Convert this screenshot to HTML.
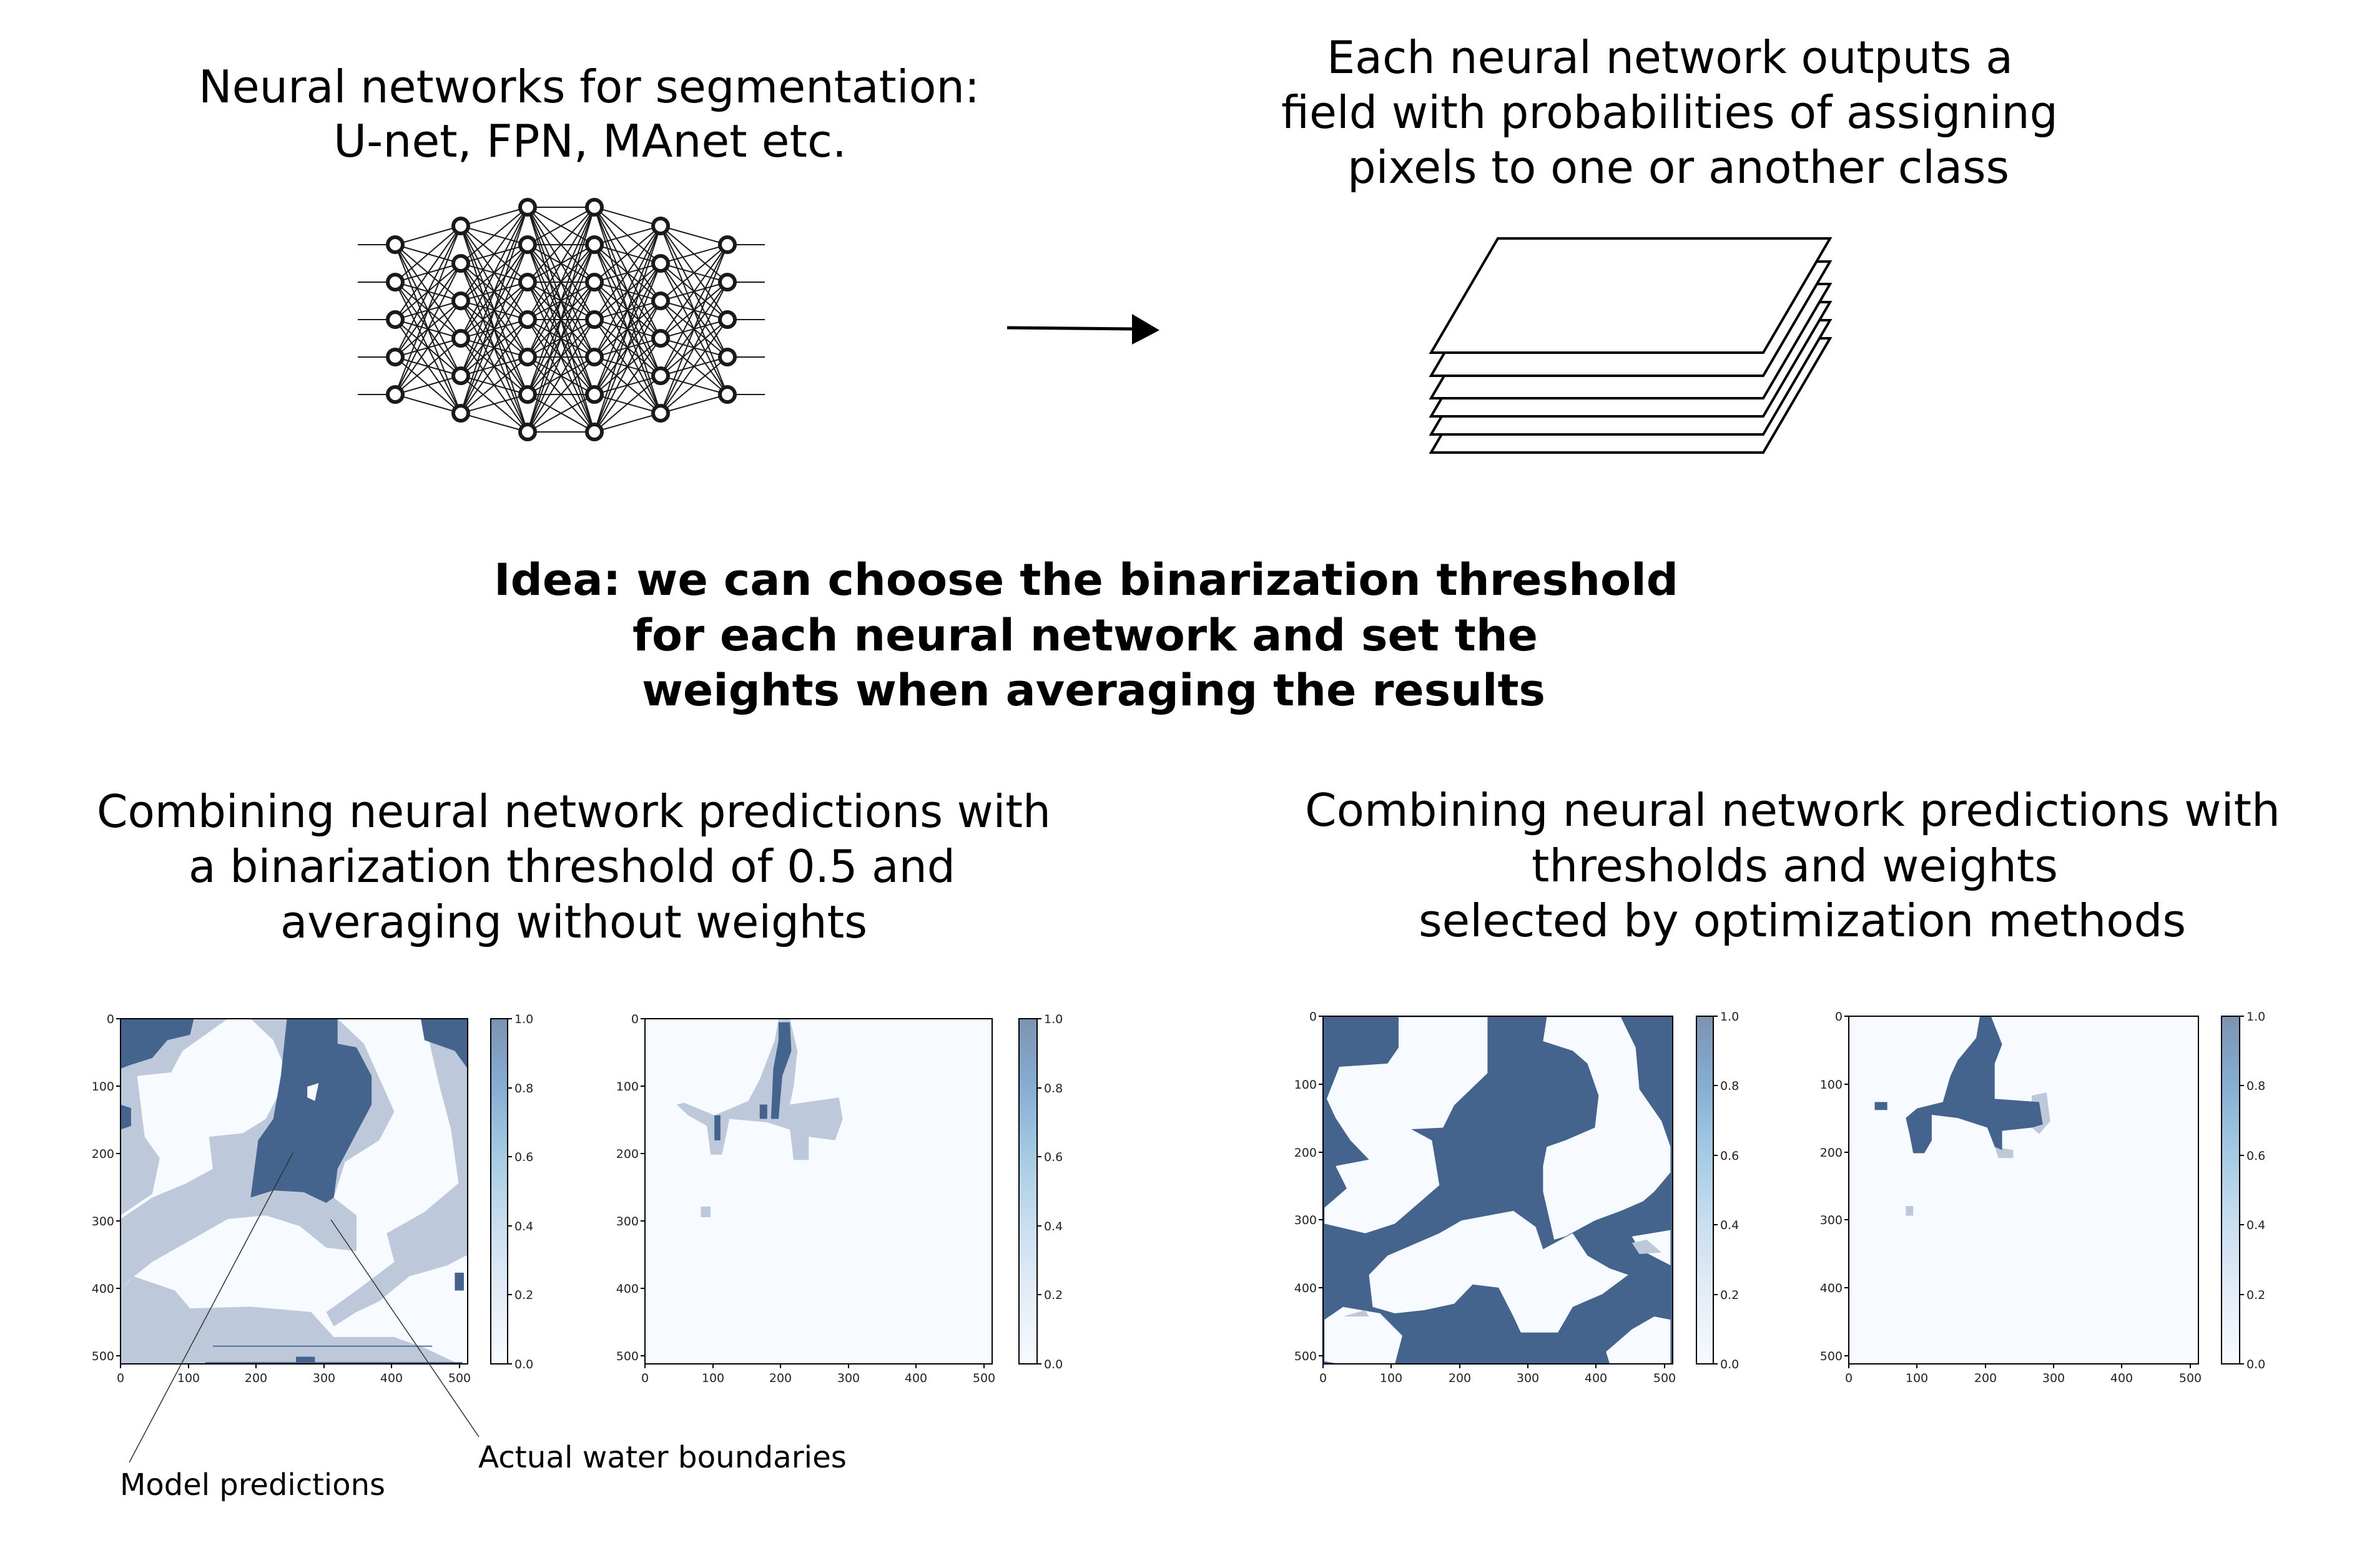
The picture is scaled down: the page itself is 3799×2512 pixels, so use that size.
<!DOCTYPE html>
<html><head><meta charset="utf-8"><style>
html,body{margin:0;padding:0;background:#fff;}
svg{display:block;}
text{font-family:"DejaVu Sans","Liberation Sans",sans-serif;fill:#000;}
.t{font-size:72px;}
.b{font-size:70px;font-weight:bold;}
.tk{font-size:19px;fill:#222;}
.lb{font-size:48px;}
</style></head><body>
<svg id="s" width="3799" height="2512" viewBox="0 0 3799 2512" xmlns="http://www.w3.org/2000/svg">
<defs>
<linearGradient id="cb" x1="0" y1="1" x2="0" y2="0">
<stop offset="0" stop-color="#f7fbff"/><stop offset="0.2" stop-color="#e4edf7"/><stop offset="0.4" stop-color="#cadef0"/><stop offset="0.6" stop-color="#a6cbe3"/><stop offset="0.8" stop-color="#86aed3"/><stop offset="1" stop-color="#7c93b2"/>
</linearGradient>
</defs>
<rect width="3799" height="2512" fill="#fff"/>

<text class="t" x="318" y="164" textLength="1251" lengthAdjust="spacingAndGlyphs">Neural networks for segmentation:</text>
<text class="t" x="534" y="251" textLength="822" lengthAdjust="spacingAndGlyphs">U-net, FPN, MAnet etc.</text>
<text class="t" x="2125" y="117" textLength="1099" lengthAdjust="spacingAndGlyphs">Each neural network outputs a</text>
<text class="t" x="2052" y="205" textLength="1244" lengthAdjust="spacingAndGlyphs">field with probabilities of assigning</text>
<text class="t" x="2158" y="293" textLength="1060" lengthAdjust="spacingAndGlyphs">pixels to one or another class</text>

<text class="b" x="791" y="953" textLength="1897" lengthAdjust="spacingAndGlyphs">Idea: we can choose the binarization threshold</text>
<text class="b" x="1013" y="1042" textLength="1450" lengthAdjust="spacingAndGlyphs">for each neural network and set the</text>
<text class="b" x="1028" y="1130" textLength="1447" lengthAdjust="spacingAndGlyphs">weights when averaging the results</text>

<text class="t" x="155" y="1325" textLength="1528" lengthAdjust="spacingAndGlyphs">Combining neural network predictions with</text>
<text class="t" x="302" y="1413" textLength="1228" lengthAdjust="spacingAndGlyphs">a binarization threshold of 0.5 and</text>
<text class="t" x="449" y="1502" textLength="940" lengthAdjust="spacingAndGlyphs">averaging without weights</text>

<text class="t" x="2090" y="1323" textLength="1562" lengthAdjust="spacingAndGlyphs">Combining neural network predictions with</text>
<text class="t" x="2453" y="1412" textLength="843" lengthAdjust="spacingAndGlyphs">thresholds and weights</text>
<text class="t" x="2272" y="1500" textLength="1229" lengthAdjust="spacingAndGlyphs">selected by optimization methods</text>

<g id="nn" stroke="#1a1a1a" stroke-width="2" fill="none"></g>

<line x1="1613" y1="525" x2="1818" y2="527" stroke="#000" stroke-width="5"/>
<polygon points="1813,503 1857,529 1813,552" fill="#000"/>

<g stroke="#000" stroke-width="4" fill="#fff" stroke-linejoin="miter">
<polygon points="2399,542 2931,542 2824,725 2292,725"/>
<polygon points="2399,513 2931,513 2824,696 2292,696"/>
<polygon points="2399,484 2931,484 2824,667 2292,667"/>
<polygon points="2399,455 2931,455 2824,638 2292,638"/>
<polygon points="2399,419 2931,419 2824,602 2292,602"/>
<polygon points="2399,382 2931,382 2824,565 2292,565"/>
</g>

<g transform="translate(193,1632)">
<svg x="0" y="0" width="556" height="553" viewBox="158 140 459 965" preserveAspectRatio="none">
<rect x="158" y="140" width="459" height="965" fill="#f7fbff"/>
<g fill="#bdc9da">
<polygon points="158,140 300,140 240,230 225,290 180,300 158,320"/>
<polygon points="158,300 180,300 190,470 210,530 200,630 158,690"/>
<polygon points="330,140 445,140 480,210 520,400 500,480 455,540 440,640 470,690 470,790 430,780 395,720 350,690 300,700 250,760 200,820 170,870 158,900 158,700 200,640 245,600 280,560 275,470 320,460 350,420 380,300 360,200"/>
<polygon points="560,140 617,140 617,800 590,830 540,860 500,930 470,960 440,1000 430,960 470,900 520,820 510,740 560,680 605,600 595,450 580,330 570,240"/>
<polygon points="158,900 175,860 230,900 250,950 330,945 410,960 440,1030 520,1030 560,1060 600,1100 617,1105 158,1105"/>
</g>
<g fill="#44648e">
<polygon points="158,140 255,140 250,185 220,200 200,250 170,270 158,280"/>
<polygon points="378,140 445,140 445,210 470,220 490,300 490,380 475,440 460,500 445,560 440,640 430,655 400,625 360,620 330,640 335,560 340,480 360,420 370,300 375,200"/>
<polygon points="555,140 617,140 617,280 600,230 560,200"/>
<polygon points="158,380 172,390 172,440 158,450"/>
<polygon points="600,850 612,850 612,900 600,900"/>
<rect x="280" y="1054" width="290" height="3"/>
<rect x="270" y="1100" width="340" height="5"/>
<rect x="390" y="1085" width="25" height="20"/>
</g>
<polygon points="405,330 420,320 415,370 405,360" fill="#f7fbff"/>
</svg>
<rect x="0" y="0" width="556" height="553" fill="none" stroke="#000" stroke-width="2"/>
<g stroke="#000" stroke-width="2">
<line x1="0" y1="553" x2="0" y2="560"/><line x1="109" y1="553" x2="109" y2="560"/><line x1="217" y1="553" x2="217" y2="560"/><line x1="326" y1="553" x2="326" y2="560"/><line x1="434" y1="553" x2="434" y2="560"/><line x1="543" y1="553" x2="543" y2="560"/>
<line x1="0" y1="0" x2="-7" y2="0"/><line x1="0" y1="108" x2="-7" y2="108"/><line x1="0" y1="216" x2="-7" y2="216"/><line x1="0" y1="324" x2="-7" y2="324"/><line x1="0" y1="432" x2="-7" y2="432"/><line x1="0" y1="540" x2="-7" y2="540"/>
</g>
<g text-anchor="middle">
<text x="0" y="582" class="tk">0</text><text x="109" y="582" class="tk">100</text><text x="217" y="582" class="tk">200</text><text x="326" y="582" class="tk">300</text><text x="434" y="582" class="tk">400</text><text x="543" y="582" class="tk">500</text>
</g>
<g text-anchor="end">
<text x="-10" y="7" class="tk">0</text><text x="-10" y="115" class="tk">100</text><text x="-10" y="223" class="tk">200</text><text x="-10" y="331" class="tk">300</text><text x="-10" y="439" class="tk">400</text><text x="-10" y="547" class="tk">500</text>
</g>
<rect x="593" y="0" width="27" height="553" fill="url(#cb)" stroke="#000" stroke-width="2"/>
<g stroke="#000" stroke-width="2"><line x1="620" y1="0" x2="627" y2="0"/><line x1="620" y1="111" x2="627" y2="111"/><line x1="620" y1="221" x2="627" y2="221"/><line x1="620" y1="332" x2="627" y2="332"/><line x1="620" y1="442" x2="627" y2="442"/><line x1="620" y1="553" x2="627" y2="553"/></g>
<text x="631" y="7" class="tk">1.0</text><text x="631" y="118" class="tk">0.8</text><text x="631" y="228" class="tk">0.6</text><text x="631" y="339" class="tk">0.4</text><text x="631" y="449" class="tk">0.2</text><text x="631" y="560" class="tk">0.0</text>
</g>

<g transform="translate(1033,1632)">
<svg x="0" y="0" width="556" height="553" viewBox="848 140 460 965" preserveAspectRatio="none">
<rect x="848" y="140" width="460" height="965" fill="#f7fbff"/>
<polygon fill="#bdc9da" points="1025,140 1040,140 1050,230 1045,330 1040,380 1105,360 1110,420 1100,480 1065,470 1065,535 1045,535 1040,450 1010,430 960,420 950,520 935,520 930,440 905,410 890,380 900,375 940,410 985,370 1000,310 1020,200"/>
<polygon fill="#bdc9da" points="922,665 935,665 935,695 922,695"/>
<g fill="#44648e">
<polygon points="1025,150 1040,150 1042,230 1030,300 1025,420 1015,420 1018,280 1025,200"/>
<polygon points="1000,380 1010,380 1010,420 1000,420"/>
<polygon points="940,410 948,410 948,480 940,480"/>
</g>
</svg>
<rect x="0" y="0" width="556" height="553" fill="none" stroke="#000" stroke-width="2"/>
<g stroke="#000" stroke-width="2">
<line x1="0" y1="553" x2="0" y2="560"/><line x1="109" y1="553" x2="109" y2="560"/><line x1="217" y1="553" x2="217" y2="560"/><line x1="326" y1="553" x2="326" y2="560"/><line x1="434" y1="553" x2="434" y2="560"/><line x1="543" y1="553" x2="543" y2="560"/>
<line x1="0" y1="0" x2="-7" y2="0"/><line x1="0" y1="108" x2="-7" y2="108"/><line x1="0" y1="216" x2="-7" y2="216"/><line x1="0" y1="324" x2="-7" y2="324"/><line x1="0" y1="432" x2="-7" y2="432"/><line x1="0" y1="540" x2="-7" y2="540"/>
</g>
<g text-anchor="middle">
<text x="0" y="582" class="tk">0</text><text x="109" y="582" class="tk">100</text><text x="217" y="582" class="tk">200</text><text x="326" y="582" class="tk">300</text><text x="434" y="582" class="tk">400</text><text x="543" y="582" class="tk">500</text>
</g>
<g text-anchor="end">
<text x="-10" y="7" class="tk">0</text><text x="-10" y="115" class="tk">100</text><text x="-10" y="223" class="tk">200</text><text x="-10" y="331" class="tk">300</text><text x="-10" y="439" class="tk">400</text><text x="-10" y="547" class="tk">500</text>
</g>
<rect x="599" y="0" width="29" height="553" fill="url(#cb)" stroke="#000" stroke-width="2"/>
<g stroke="#000" stroke-width="2"><line x1="628" y1="0" x2="635" y2="0"/><line x1="628" y1="111" x2="635" y2="111"/><line x1="628" y1="221" x2="635" y2="221"/><line x1="628" y1="332" x2="635" y2="332"/><line x1="628" y1="442" x2="635" y2="442"/><line x1="628" y1="553" x2="635" y2="553"/></g>
<text x="639" y="7" class="tk">1.0</text><text x="639" y="118" class="tk">0.8</text><text x="639" y="228" class="tk">0.6</text><text x="639" y="339" class="tk">0.4</text><text x="639" y="449" class="tk">0.2</text><text x="639" y="560" class="tk">0.0</text>
</g>

<g stroke="#333" stroke-width="1.5">
<line x1="469" y1="1847" x2="207" y2="2343"/>
<line x1="530" y1="1954" x2="767" y2="2302"/>
</g>
<text class="lb" x="192" y="2395" textLength="425" lengthAdjust="spacingAndGlyphs">Model predictions</text>
<text class="lb" x="766" y="2351" textLength="590" lengthAdjust="spacingAndGlyphs">Actual water boundaries</text>

<g transform="translate(2119,1628)">
<svg x="0" y="0" width="560" height="557" viewBox="143 152 472 1086" preserveAspectRatio="none">
<rect x="143" y="152" width="472" height="1086" fill="#44648e"/>
<g fill="#f7fbff">
<polygon points="245,155 365,155 365,330 320,430 305,500 262,505 290,540 300,680 240,800 200,830 145,800 145,750 175,690 160,620 205,600 180,540 160,470 148,410 165,310 230,300 245,250"/>
<polygon points="445,155 545,155 565,250 570,380 600,480 612,560 612,640 590,700 575,730 545,760 510,790 470,840 455,850 440,700 440,620 445,560 470,540 510,500 515,400 500,300 480,260 440,230"/>
<polygon points="330,790 400,760 430,810 440,880 480,830 500,900 530,940 555,960 520,1020 480,1060 460,1140 410,1140 400,1090 380,1000 345,990 320,1050 280,1070 240,1080 210,1060 205,960 230,900 270,860 300,830"/>
<polygon points="145,1100 170,1060 220,1080 250,1150 240,1238 165,1238 145,1230"/>
<polygon points="525,1200 560,1130 590,1090 612,1100 612,1238 530,1238"/>
<polygon points="560,840 612,820 612,930 570,880"/>
</g>
<g fill="#bdc9da"><polygon points="560,860 580,850 600,890 570,895"/><polygon points="170,1090 200,1070 205,1090"/></g>
</svg>
<rect x="0" y="0" width="560" height="557" fill="none" stroke="#000" stroke-width="2"/>
<g stroke="#000" stroke-width="2">
<line x1="0" y1="557" x2="0" y2="564"/><line x1="109" y1="557" x2="109" y2="564"/><line x1="219" y1="557" x2="219" y2="564"/><line x1="328" y1="557" x2="328" y2="564"/><line x1="437" y1="557" x2="437" y2="564"/><line x1="547" y1="557" x2="547" y2="564"/>
<line x1="0" y1="0" x2="-7" y2="0"/><line x1="0" y1="109" x2="-7" y2="109"/><line x1="0" y1="218" x2="-7" y2="218"/><line x1="0" y1="326" x2="-7" y2="326"/><line x1="0" y1="435" x2="-7" y2="435"/><line x1="0" y1="544" x2="-7" y2="544"/>
</g>
<g text-anchor="middle">
<text x="0" y="586" class="tk">0</text><text x="109" y="586" class="tk">100</text><text x="219" y="586" class="tk">200</text><text x="328" y="586" class="tk">300</text><text x="437" y="586" class="tk">400</text><text x="547" y="586" class="tk">500</text>
</g>
<g text-anchor="end">
<text x="-10" y="7" class="tk">0</text><text x="-10" y="116" class="tk">100</text><text x="-10" y="225" class="tk">200</text><text x="-10" y="333" class="tk">300</text><text x="-10" y="442" class="tk">400</text><text x="-10" y="551" class="tk">500</text>
</g>
<rect x="598" y="0" width="27" height="557" fill="url(#cb)" stroke="#000" stroke-width="2"/>
<g stroke="#000" stroke-width="2"><line x1="625" y1="0" x2="632" y2="0"/><line x1="625" y1="111" x2="632" y2="111"/><line x1="625" y1="223" x2="632" y2="223"/><line x1="625" y1="334" x2="632" y2="334"/><line x1="625" y1="446" x2="632" y2="446"/><line x1="625" y1="557" x2="632" y2="557"/></g>
<text x="636" y="7" class="tk">1.0</text><text x="636" y="118" class="tk">0.8</text><text x="636" y="230" class="tk">0.6</text><text x="636" y="341" class="tk">0.4</text><text x="636" y="453" class="tk">0.2</text><text x="636" y="564" class="tk">0.0</text>
</g>

<g transform="translate(2961,1628)">
<svg x="0" y="0" width="560" height="557" viewBox="853 152 472 1086" preserveAspectRatio="none">
<rect x="853" y="152" width="472" height="1086" fill="#f7fbff"/>
<g fill="#bdc9da">
<polygon points="1050,560 1075,570 1075,595 1055,595"/>
<polygon points="930,745 940,745 940,775 930,775"/>
<polygon points="1100,400 1120,390 1125,480 1110,520 1100,500"/>
</g>
<g fill="#44648e">
<polygon points="1030,152 1045,152 1060,240 1050,300 1050,410 1110,420 1115,490 1100,500 1060,510 1060,570 1050,560 1040,500 1000,470 965,460 965,540 955,580 940,580 935,520 930,470 945,440 980,420 990,340 1000,290 1025,220"/>
<polygon points="888,420 905,420 905,445 888,445"/>
</g>
</svg>
<rect x="0" y="0" width="560" height="557" fill="none" stroke="#000" stroke-width="2"/>
<g stroke="#000" stroke-width="2">
<line x1="0" y1="557" x2="0" y2="564"/><line x1="109" y1="557" x2="109" y2="564"/><line x1="219" y1="557" x2="219" y2="564"/><line x1="328" y1="557" x2="328" y2="564"/><line x1="437" y1="557" x2="437" y2="564"/><line x1="547" y1="557" x2="547" y2="564"/>
<line x1="0" y1="0" x2="-7" y2="0"/><line x1="0" y1="109" x2="-7" y2="109"/><line x1="0" y1="218" x2="-7" y2="218"/><line x1="0" y1="326" x2="-7" y2="326"/><line x1="0" y1="435" x2="-7" y2="435"/><line x1="0" y1="544" x2="-7" y2="544"/>
</g>
<g text-anchor="middle">
<text x="0" y="586" class="tk">0</text><text x="109" y="586" class="tk">100</text><text x="219" y="586" class="tk">200</text><text x="328" y="586" class="tk">300</text><text x="437" y="586" class="tk">400</text><text x="547" y="586" class="tk">500</text>
</g>
<g text-anchor="end">
<text x="-10" y="7" class="tk">0</text><text x="-10" y="116" class="tk">100</text><text x="-10" y="225" class="tk">200</text><text x="-10" y="333" class="tk">300</text><text x="-10" y="442" class="tk">400</text><text x="-10" y="551" class="tk">500</text>
</g>
<rect x="597" y="0" width="29" height="557" fill="url(#cb)" stroke="#000" stroke-width="2"/>
<g stroke="#000" stroke-width="2"><line x1="626" y1="0" x2="633" y2="0"/><line x1="626" y1="111" x2="633" y2="111"/><line x1="626" y1="223" x2="633" y2="223"/><line x1="626" y1="334" x2="633" y2="334"/><line x1="626" y1="446" x2="633" y2="446"/><line x1="626" y1="557" x2="633" y2="557"/></g>
<text x="637" y="7" class="tk">1.0</text><text x="637" y="118" class="tk">0.8</text><text x="637" y="230" class="tk">0.6</text><text x="637" y="341" class="tk">0.4</text><text x="637" y="453" class="tk">0.2</text><text x="637" y="564" class="tk">0.0</text>
</g>
</svg>
<script>
(function(){
var ns="http://www.w3.org/2000/svg";
var g=document.getElementById("nn");
var xs=[633,738,845,952,1058,1165];
var counts=[5,6,7,7,6,5];
var cols=xs.map(function(x,i){var n=counts[i],arr=[];var top=512-(n-1)*30;for(var k=0;k<n;k++)arr.push([x,top+k*60]);return arr;});
function ln(a,b,c,d){var l=document.createElementNS(ns,"line");l.setAttribute("x1",a);l.setAttribute("y1",b);l.setAttribute("x2",c);l.setAttribute("y2",d);g.appendChild(l);}
for(var i=0;i<5;i++){cols[i].forEach(function(p){cols[i+1].forEach(function(q){ln(p[0],p[1],q[0],q[1]);});});}
cols[0].forEach(function(p){ln(573,p[1],p[0],p[1]);});
cols[5].forEach(function(p){ln(p[0],p[1],1225,p[1]);});
cols.forEach(function(c){c.forEach(function(p){var e=document.createElementNS(ns,"circle");e.setAttribute("cx",p[0]);e.setAttribute("cy",p[1]);e.setAttribute("r",12);e.setAttribute("fill","#fff");e.setAttribute("stroke","#1a1a1a");e.setAttribute("stroke-width","6");g.appendChild(e);});});
})();
</script>
</body></html>
